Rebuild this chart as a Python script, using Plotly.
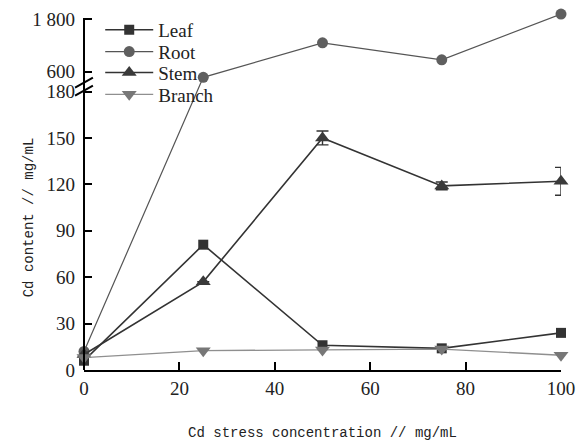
import plotly.graph_objects as go

# ---- data ----
conc = [0, 25, 50, 75, 100]
leaf = [6, 81, 16, 14, 24]
root = [12, 470, 1255, 870, 1910]
stem = [10, 57, 150, 119, 122]
stem_err = [0, 0, 4.5, 2.5, 9]
branch = [8, 12.5, 13, 13.5, 9.5]

lower_ticks = [0, 30, 60, 90, 120, 150, 180]
upper_ticks = [600, 1800]
upper_labels = ["600", "1 800"]

# ---- layout geometry (pixels) ----
W, H = 581, 444
ML, MR, MT, MB = 84, 16, 6, 72
PH = H - MT - MB          # plot height in px
PW = W - ML - MR
PX_PER_UNIT = 280.0 / 180.0   # lower segment scale


def py2paper(py):
    return (H - MB - py) / PH


# ---- broken-axis mapping (lower 0-180 linear, upper 600-1800 compressed) ----
LOW_MAX = 180
UP_BASE = 600
UP_D0 = (H - MB - 72) / PX_PER_UNIT      # display position of 600
UP_D1 = (H - MB - 19) / PX_PER_UNIT      # display position of 1800
UP_K = (UP_D1 - UP_D0) / 1200.0
Y_TOP = PH / PX_PER_UNIT


def brk(v):
    if v <= LOW_MAX:
        return v
    return UP_D0 + (v - UP_BASE) * UP_K


tickvals = [brk(v) for v in lower_ticks] + [brk(v) for v in upper_ticks]
ticktext = [str(v) for v in lower_ticks] + upper_labels

serif = "Liberation Serif"
mono = "Liberation Mono"
txt = "#222222"

fig = go.Figure()

series = [
    ("Leaf", leaf, "square", 10, "#333333", "#333333", 1.6, None, 30),
    ("Root", root, "circle", 11, "#5f5f5f", "#555555", 1.2, None, 52),
    ("Stem", stem, "triangle-up", 13, "#3a3a3a", "#333333", 1.6, stem_err, 73),
    ("Branch", branch, "triangle-down", 13, "#777777", "#8f8f8f", 1.4, None, 95),
]

legends = {}
for i, (name, vals, sym, size, mcol, lcol, lw, err, ly) in enumerate(series):
    lname = "legend" if i == 0 else f"legend{i + 1}"
    kw = {}
    if err is not None:
        kw["error_y"] = dict(type="data", array=err, visible=True,
                             color="#333333", thickness=1.4, width=6)
    fig.add_trace(go.Scatter(
        x=conc, y=[brk(v) for v in vals], name=name, mode="lines+markers",
        marker=dict(symbol=sym, size=size, color=mcol),
        line=dict(color=lcol, width=lw), legend=lname,
        cliponaxis=False, **kw))
    legends[lname] = dict(x=0.034, y=py2paper(ly), xanchor="left", yanchor="middle",
                          bgcolor="rgba(0,0,0,0)", itemwidth=48,
                          font=dict(family=serif, size=19, color=txt))

# y axis line (drawn only up to the 1 800 tick)
fig.add_shape(type="line", xref="paper", yref="paper", x0=0, x1=0,
              y0=0, y1=py2paper(18), line=dict(color="black", width=2))

# break marks on the y axis
for y0, y1 in [(88, 78), (96, 86)]:
    fig.add_shape(type="line", xref="paper", yref="paper",
                  x0=(75 - ML) / PW, x1=(93 - ML) / PW,
                  y0=py2paper(y0), y1=py2paper(y1),
                  line=dict(color="black", width=2))

fig.add_annotation(text="Cd content // mg/mL", textangle=-90,
                   xref="paper", yref="paper", x=(28 - ML) / PW, y=py2paper(218),
                   xanchor="center", yanchor="middle", showarrow=False,
                   font=dict(family=mono, size=14, color=txt))

fig.update_layout(
    width=W, height=H,
    margin=dict(l=ML, r=MR, t=MT, b=MB),
    paper_bgcolor="white", plot_bgcolor="white",
    showlegend=True,
    xaxis=dict(range=[0, 100], tickvals=[0, 20, 40, 60, 80, 100],
               ticks="inside", ticklen=8, tickwidth=2, tickcolor="black",
               showline=True, linecolor="black", linewidth=2,
               showgrid=False, zeroline=False,
               tickfont=dict(family=serif, size=19, color=txt),
               ticklabelstandoff=0,
               title=dict(text="Cd stress concentration // mg/mL",
                          font=dict(family=mono, size=14, color=txt), standoff=29)),
    yaxis=dict(range=[0, Y_TOP], tickvals=tickvals, ticktext=ticktext,
               ticks="inside", ticklen=8, tickwidth=2, tickcolor="black",
               showline=False,
               showgrid=False, zeroline=False,
               tickfont=dict(family=serif, size=19, color=txt),
               ticklabelstandoff=8),
    **legends,
)

fig.write_html("out.html")
